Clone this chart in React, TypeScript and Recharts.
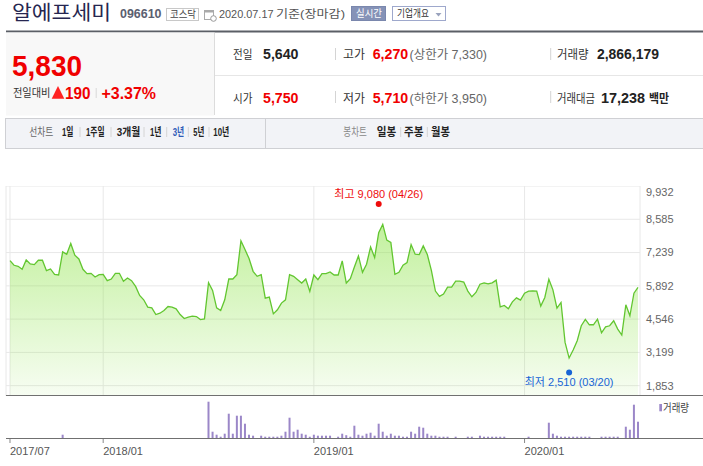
import React from 'react';
import { ComposedChart, Area, Bar, XAxis, YAxis, CartesianGrid, ReferenceDot } from 'recharts';

// weekly closing prices, 2017/07 .. 2020/07/17
const closes = [
  6914, 6724, 6683, 6561, 6941, 6778, 6751, 6927, 6927, 6507,
  6575, 6358, 6331, 7266, 7171, 7605, 7131, 6982, 6561, 6385,
  6399, 6250, 6345, 6358, 6101, 6168, 6399, 6399, 6074, 6209,
  6101, 5870, 5505, 5328, 5030, 5003, 4732, 4786, 4895, 5057,
  5030, 4963, 4732, 4570, 4624, 4665, 4651, 4529, 4556, 6020,
  5708, 5003, 4895, 5328, 6169, 6169, 6345, 7713, 7361, 6995,
  6480, 6277, 6345, 5396, 5437, 4759, 4922, 5193, 5328, 6345,
  6277, 6141, 6006, 6169, 5667, 6331, 6141, 6385, 6385, 6453,
  6331, 6331, 6900, 6006, 6182, 6656, 7103, 6440, 6765, 7469,
  7036, 8038, 8377, 7740, 7645, 6358, 6440, 6724, 6833, 7564,
  7171, 7158, 7510, 7158, 6521, 5681, 5464, 5559, 5843, 5843,
  6087, 6087, 6047, 5681, 5450, 5623, 5959, 6013, 5973, 6013,
  6121, 5044, 5098, 4963, 5246, 5407, 5313, 5596, 5677, 5690,
  5677, 5071, 5421, 6161, 5730, 4990, 5219, 3604, 2971, 3294,
  3671, 4277, 4532, 4317, 4317, 4546, 3994, 4236, 4277, 4479,
  4142, 3900, 5125, 4680, 5596, 5830,
];

// weekly volume (thousand shares)
const volumes = [
  0, 0, 0, 0, 0, 0, 0, 0, 0, 0,
  0, 0, 0, 3300, 0, 0, 0, 0, 0, 0,
  0, 0, 0, 0, 0, 0, 0, 0, 0, 0,
  0, 0, 0, 0, 0, 0, 0, 0, 0, 0,
  0, 0, 0, 0, 0, 0, 0, 0, 0, 36300,
  6300, 3300, 1300, 4300, 24300, 4300, 22300, 22300, 14300, 3300,
  2300, 0, 2300, 1300, 1300, 1300, 1300, 2300, 6300, 20300,
  6300, 8300, 4300, 3300, 1300, 3300, 2300, 2300, 2300, 2300,
  0, 1300, 4300, 2800, 1300, 12300, 3300, 2300, 4300, 5300,
  2300, 14300, 6300, 2300, 4300, 2300, 2300, 1300, 1300, 6300,
  4300, 11300, 10300, 4300, 2300, 2300, 1300, 1300, 1300, 0,
  1300, 0, 0, 1300, 1300, 0, 2300, 1300, 1300, 1300,
  1300, 1300, 1300, 0, 0, 0, 0, 0, 1300, 0,
  0, 0, 0, 15300, 4300, 2300, 1300, 1300, 1300, 1300,
  1300, 1300, 1300, 1300, 0, 0, 1300, 1300, 1300, 1300,
  1300, 0, 11300, 8300, 33300, 16300,
];

const xTickIdx = [0, 23, 75, 127];
const xTickLabels = ['2017/07', '2018/01', '2019/01', '2020/01'];
const yTicks = [1853, 3199, 4546, 5892, 7239, 8585, 9932];

const extremes = [
  { kind: 'high', label: '최고', value: 9080, date: '04/26', idx: 91 },
  { kind: 'low', label: '최저', value: 2510, date: '03/20', idx: 138 },
];

const rows = closes.map((close, i) => ({ i, close, vol: volumes[i] }));

const FONT = '"Liberation Sans", "Noto Sans CJK KR", sans-serif';
const KFONT = '"Noto Sans CJK KR", "Liberation Sans", sans-serif';
const X_DOMAIN: [number, number] = [-0.987, 155.494];
const Y_DOMAIN: [number, number] = [1435, 9932];
const RED = '#f00000';

const fmt = (v: number) => v.toLocaleString('en-US');

function T(props: any) {
  const { x, y, s, w, c = '#333', b = false, f = FONT, children } = props;
  return (
    <text x={x} y={y} fontSize={s} fill={c} fontWeight={b ? 700 : 400} fontFamily={f}
      textLength={w} lengthAdjust="spacingAndGlyphs">{children}</text>
  );
}

function ExtremeMark(props: any) {
  const { cx, cy, item } = props;
  if (cx == null || cy == null) return null;
  const up = item.kind === 'high';
  const color = up ? '#ee0c0c' : '#1765d6';
  return (
    <g>
      <circle cx={cx} cy={cy + (up ? -3 : 3)} r={3} fill={color} />
      <text x={cx} y={cy + (up ? -13 : 13)} dy="0.35em" textAnchor="middle" fontSize={11}
        fill={color} fontFamily={FONT}>{`${item.label} ${fmt(item.value)} (${item.date})`}</text>
    </g>
  );
}

function XTick(props: any) {
  const { x, y, payload } = props;
  const k = xTickIdx.indexOf(payload.value);
  return (
    <text x={x} y={y} dy="0.71em" textAnchor="start" fontSize={11} fill="#555" fontFamily={FONT}>
      {k >= 0 ? xTickLabels[k] : ''}
    </text>
  );
}

function Sep({ x, y1, y2, c = '#d4d4d4' }: any) {
  return <line x1={x} x2={x} y1={y1} y2={y2} stroke={c} strokeWidth={1} />;
}

function Header() {
  const r1 = 59.4;
  const r2 = 102.6;
  const tb = 135.8;
  return (
    <svg width={703} height={160} style={{ position: 'absolute', left: 0, top: 0 }}>
      {/* title line */}
      <T x={12} y={19.8} s={20} w={99} c="#262650">알에프세미</T>
      <T x={120} y={18.4} s={12} w={41.5} c="#5b6070" b>096610</T>
      <rect x={166.5} y={8.5} width={32} height={12} fill="#fff" stroke="#c8c8c8" />
      <T x={170} y={17.8} s={10} w={26} c="#444" f={KFONT}>코스닥</T>
      <rect x={204.5} y={10.5} width={9} height={9} fill="#fff" stroke="#aaa" />
      <rect x={204.5} y={10.5} width={9} height={2} fill="#aaa" />
      <circle cx={213.5} cy={18.5} r={2.8} fill="#fff" stroke="#999" />
      <T x={219} y={17.8} s={11} w={54.5} c="#555">2020.07.17</T>
      <T x={276} y={18} s={11.5} w={69} c="#555">기준(장마감)</T>
      <rect x={351.5} y={6.5} width={34} height={14} fill="#8592b7" stroke="#7a87ad" />
      <T x={356} y={17.4} s={10} w={26} c="#fff" f={KFONT}>실시간</T>
      <rect x={392.5} y={6.5} width={53} height={14} fill="#fff" stroke="#9ea8cc" />
      <T x={397} y={17.4} s={10} w={32} c="#333" f={KFONT}>기업개요</T>
      <polygon points="435.5,13 441.5,13 438.5,16.5" fill="#9aa3bd" />

      <rect x={6} y={30.5} width={697} height={2} fill="#5b5f66" />
      {/* left panel */}
      <rect x={6} y={32.5} width={208} height={83} fill="#f8f8f8" />
      <line x1={214.5} x2={214.5} y1={32.5} y2={115} stroke="#dcdcdc" />
      <T x={12} y={76} s={30} w={70} c={RED} b>5,830</T>
      <T x={13} y={97} s={11} w={37.5} c="#333" f={KFONT}>전일대비</T>
      <polygon points="51.7,98.7 64.3,98.7 58,86" fill="#f22" />
      <T x={65} y={99} s={17} w={25.5} c={RED} b>190</T>
      <Sep x={96.2} y1={88} y2={98} c="#d8d8d8" />
      <T x={101.5} y={99} s={17} w={54.5} c={RED} b>+3.37%</T>

      {/* right info rows */}
      <line x1={215} x2={703} y1={75.5} y2={75.5} stroke="#e6e6e6" />
      <T x={233} y={r1} s={12} w={19.5} c="#333" f={KFONT}>전일</T>
      <T x={263} y={r1} s={14} w={35.5} c="#222" b>5,640</T>
      <Sep x={335.5} y1={48} y2={60} />
      <T x={343} y={r1} s={12} w={22} c="#333" f={KFONT}>고가</T>
      <T x={372.7} y={r1} s={14} w={35.5} c={RED} b>6,270</T>
      <T x={409.5} y={r1} s={12} w={77.5} c="#666">(상한가 7,330)</T>
      <Sep x={550.7} y1={48} y2={60} />
      <T x={557} y={r1} s={12} w={31.5} c="#333" f={KFONT}>거래량</T>
      <T x={597} y={r1} s={14} w={62} c="#222" b>2,866,179</T>

      <T x={233} y={r2} s={12} w={19.5} c="#333" f={KFONT}>시가</T>
      <T x={263} y={r2} s={14} w={35.5} c={RED} b>5,750</T>
      <Sep x={335.5} y1={91} y2={103} />
      <T x={343} y={r2} s={12} w={22} c="#333" f={KFONT}>저가</T>
      <T x={372.7} y={r2} s={14} w={35.5} c={RED} b>5,710</T>
      <T x={409.5} y={r2} s={12} w={77.5} c="#666">(하한가 3,950)</T>
      <Sep x={550.7} y1={91} y2={103} />
      <T x={557} y={r2} s={12} w={38} c="#333" f={KFONT}>거래대금</T>
      <T x={601} y={r2} s={14} w={44} c="#222" b>17,238</T>
      <T x={649} y={r2} s={12} w={20} c="#222" b f={KFONT}>백만</T>

      {/* tab bar */}
      <rect x={5.5} y={118.5} width={698} height={30} fill="#f2f3f7" stroke="#cfd0d4" />
      <line x1={265.5} x2={265.5} y1={118.5} y2={148.5} stroke="#cfd0d4" />
      <T x={29.3} y={tb} s={11.5} w={24} c="#666" f={KFONT}>선차트</T>
      <T x={62} y={tb} s={11.5} w={11.5} c="#222" b>1일</T>
      <Sep x={80} y1={127} y2={137} />
      <T x={86} y={tb} s={11.5} w={18.5} c="#222" b>1주일</T>
      <Sep x={111} y1={127} y2={137} />
      <T x={116.7} y={tb} s={11.5} w={23.5} c="#222" b>3개월</T>
      <Sep x={144} y1={127} y2={137} />
      <T x={150} y={tb} s={11.5} w={11.5} c="#222" b>1년</T>
      <Sep x={166.7} y1={127} y2={137} />
      <T x={172.7} y={tb} s={11.5} w={11.5} c="#2f5bb7" b>3년</T>
      <Sep x={188.3} y1={127} y2={137} />
      <T x={193.3} y={tb} s={11.5} w={11} c="#222" b>5년</T>
      <Sep x={209} y1={127} y2={137} />
      <T x={213.3} y={tb} s={11.5} w={16} c="#222" b>10년</T>
      <T x={343.3} y={tb} s={11.5} w={23.5} c="#888" f={KFONT}>봉차트</T>
      <T x={376.7} y={tb} s={11.5} w={19.5} c="#222" b f={KFONT}>일봉</T>
      <Sep x={400.7} y1={127} y2={137} />
      <T x={404} y={tb} s={11.5} w={19.5} c="#222" b f={KFONT}>주봉</T>
      <Sep x={427.3} y1={127} y2={137} />
      <T x={431} y={tb} s={11.5} w={19} c="#222" b f={KFONT}>월봉</T>
    </svg>
  );
}

export default function App() {
  return (
    <div style={{ position: 'absolute', left: 0, top: 0, width: 703, height: 466, background: '#fff', overflow: 'hidden', fontFamily: FONT }}>
      <Header />

      <div style={{ position: 'absolute', left: 0, top: 186 }}>
        <ComposedChart width={703} height={210} data={rows} margin={{ top: 0, right: 0, bottom: 0, left: 6 }}>
          <defs>
            <linearGradient id="priceFill" x1="0" y1="0" x2="0" y2="1">
              <stop offset="0%" stopColor="#8be345" stopOpacity={0.52} />
              <stop offset="100%" stopColor="#8be345" stopOpacity={0.07} />
            </linearGradient>
          </defs>
          <CartesianGrid stroke="#e8e8e8" horizontal vertical />
          <XAxis dataKey="i" type="number" domain={X_DOMAIN} ticks={xTickIdx} hide allowDataOverflow />
          <YAxis orientation="right" width={63} type="number" domain={Y_DOMAIN} ticks={yTicks}
            allowDataOverflow tickLine={false} axisLine={false} tickMargin={0}
            tick={{ fontSize: 11, fill: '#666', fontFamily: FONT }} tickFormatter={(v: number) => fmt(v)} />
          <Area type="linear" dataKey="close" stroke="#62c630" strokeWidth={1.3} fill="url(#priceFill)"
            fillOpacity={1} dot={false} activeDot={false} isAnimationActive={false} />
          {extremes.map((e) => (
            <ReferenceDot key={e.kind} x={e.idx} y={e.value} r={3} ifOverflow="visible"
              shape={(p: any) => <ExtremeMark {...p} item={e} />} />
          ))}
        </ComposedChart>
      </div>

      <div style={{ position: 'absolute', left: 0, top: 395 }}>
        <ComposedChart width={703} height={71} data={rows} margin={{ top: 1, right: 63, bottom: 0, left: 6 }}>
          <XAxis dataKey="i" type="number" domain={X_DOMAIN} ticks={xTickIdx} allowDataOverflow height={28}
            axisLine={false} tickSize={5} tickMargin={4} tickLine={{ stroke: '#888' }} tick={<XTick />} />
          <YAxis hide type="number" domain={[0, 42000]} allowDataOverflow />
          <Bar dataKey="vol" fill="#9b87c8" barSize={2} isAnimationActive={false} />
        </ComposedChart>
      </div>

      <svg width={703} height={466} style={{ position: 'absolute', left: 0, top: 0, pointerEvents: 'none' }}>
        <rect x={6} y={395} width={697} height={1} fill="#707070" />
        <rect x={6} y={438} width={697} height={1} fill="#707070" />
        <rect x={659.3} y={404} width={2.7} height={7.3} fill="#9b87c8" />
        <T x={663} y={411.5} s={11} w={26} c="#444" f={KFONT}>거래량</T>
      </svg>
    </div>
  );
}
